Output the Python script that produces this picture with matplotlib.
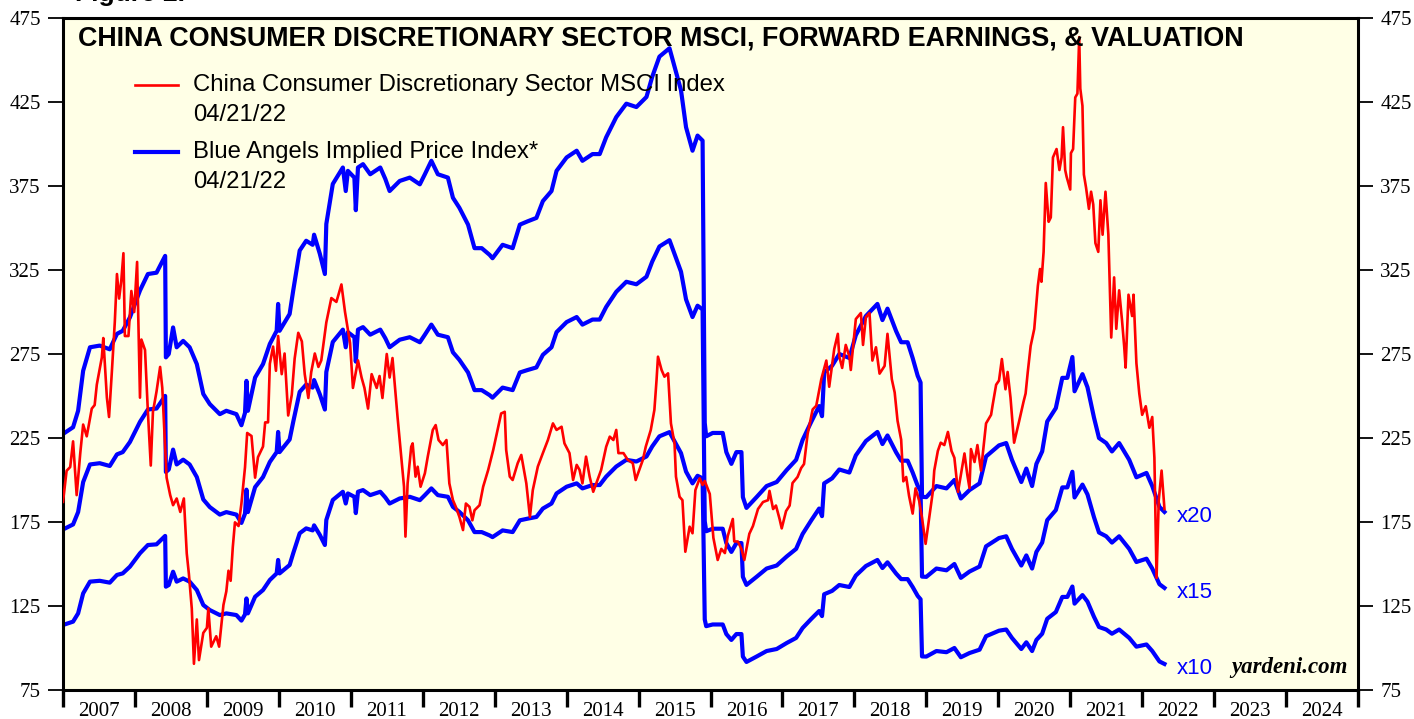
import matplotlib
matplotlib.use("Agg")
import matplotlib.pyplot as plt
import numpy as np
from matplotlib.lines import Line2D

# ---------------- data ----------------
# forward earnings (per share) (value/10)
eps_t = [2007.00, 2007.14, 2007.21, 2007.28, 2007.375, 2007.51, 2007.65, 2007.75, 2007.83, 2007.93,
         2008.07, 2008.18, 2008.30, 2008.42, 2008.43, 2008.47, 2008.53, 2008.58, 2008.67, 2008.76,
         2008.86, 2008.95, 2009.04, 2009.18, 2009.27, 2009.41, 2009.48, 2009.53, 2009.55, 2009.57,
         2009.67, 2009.78, 2009.875, 2009.97, 2009.99, 2010.01, 2010.15, 2010.20, 2010.29, 2010.38,
         2010.47, 2010.49, 2010.57, 2010.64, 2010.66, 2010.75, 2010.89, 2010.93, 2010.96, 2011.05,
         2011.07, 2011.10, 2011.17, 2011.27, 2011.41, 2011.48, 2011.54, 2011.68, 2011.82, 2011.96,
         2012.03, 2012.12, 2012.21, 2012.35, 2012.42, 2012.51, 2012.63, 2012.72, 2012.82, 2012.93,
         2012.97, 2013.11, 2013.25, 2013.35, 2013.46, 2013.58, 2013.67, 2013.79, 2013.86, 2014.00,
         2014.14, 2014.22, 2014.36, 2014.46, 2014.55, 2014.69, 2014.83, 2014.97, 2015.11, 2015.19,
         2015.29, 2015.43, 2015.59, 2015.66, 2015.75, 2015.82, 2015.89, 2015.92, 2015.94, 2016.03,
         2016.17, 2016.22, 2016.29, 2016.36, 2016.43, 2016.45, 2016.50, 2016.64, 2016.78, 2016.92,
         2017.06, 2017.19, 2017.28, 2017.40, 2017.51, 2017.55, 2017.58, 2017.69, 2017.79, 2017.93,
         2018.02, 2018.16, 2018.32, 2018.39, 2018.46, 2018.58, 2018.65, 2018.74, 2018.81, 2018.88,
         2018.92, 2018.94, 2019.00, 2019.14, 2019.28, 2019.39, 2019.48, 2019.60, 2019.74, 2019.83,
         2020.01, 2020.11, 2020.19, 2020.32, 2020.39, 2020.47, 2020.53, 2020.61, 2020.68, 2020.80,
         2020.89, 2020.96, 2021.03, 2021.06, 2021.17, 2021.24, 2021.33, 2021.40, 2021.50, 2021.58,
         2021.68, 2021.82, 2021.92, 2022.06, 2022.14, 2022.24, 2022.31]
fwd_eps = [11.37, 11.57, 12.06, 13.25, 13.95, 14.00, 13.89, 14.35, 14.44, 14.84,
           15.64, 16.13, 16.17, 16.67, 13.65, 13.75, 14.54, 13.95, 14.14, 13.95,
           13.45, 12.56, 12.26, 11.96, 12.06, 11.96, 11.63, 12.00, 12.95, 12.06,
           13.05, 13.45, 14.05, 14.44, 15.24, 14.44, 14.94, 15.64, 16.83, 17.12,
           17.00, 17.30, 16.73, 16.13, 17.62, 18.81, 19.30, 18.60, 19.20, 19.00,
           18.03, 19.30, 19.40, 19.10, 19.30, 18.96, 18.60, 18.90, 19.00, 18.80,
           19.10, 19.50, 19.10, 19.00, 18.40, 18.10, 17.60, 16.90, 16.90, 16.70,
           16.60, 17.00, 16.90, 17.60, 17.70, 17.80, 18.30, 18.60, 19.20, 19.60,
           19.80, 19.50, 19.70, 19.70, 20.20, 20.80, 21.20, 21.10, 21.40, 22.00,
           22.60, 22.85, 21.60, 20.50, 19.80, 20.25, 20.10, 11.70, 11.30, 11.40,
           11.40, 10.83, 10.48, 10.83, 10.83, 9.49, 9.17, 9.49, 9.82, 9.94,
           10.30, 10.60, 11.19, 11.73, 12.20, 11.90, 13.20, 13.40, 13.75, 13.63,
           14.31, 14.88, 15.24, 14.76, 15.10, 14.43, 14.10, 14.10, 13.63, 13.10,
           12.90, 9.50, 9.49, 9.82, 9.75, 10.00, 9.45, 9.70, 9.90, 10.70,
           11.03, 11.10, 10.60, 9.94, 10.34, 9.82, 10.48, 10.85, 11.74, 12.14,
           13.04, 13.04, 13.66, 12.64, 13.15, 12.76, 11.86, 11.25, 11.10, 10.85,
           11.10, 10.60, 10.08, 10.21, 9.82, 9.20, 9.05]
multiples = [20, 15, 10]
multiple_labels = ["x20", "x15", "x10"]

# China Consumer Discretionary Sector MSCI index
msci_t = [2007.00, 2007.05, 2007.10, 2007.14, 2007.19, 2007.24, 2007.28, 2007.33, 2007.40, 2007.44,
          2007.47, 2007.54, 2007.56, 2007.61, 2007.64, 2007.68, 2007.72, 2007.75, 2007.78, 2007.81,
          2007.84, 2007.86, 2007.91, 2007.95, 2007.99, 2008.03, 2008.07, 2008.09, 2008.14, 2008.18,
          2008.22, 2008.25, 2008.30, 2008.35, 2008.38, 2008.44, 2008.49, 2008.53, 2008.58, 2008.63,
          2008.68, 2008.72, 2008.75, 2008.79, 2008.82, 2008.86, 2008.89, 2008.95, 2009.00, 2009.02,
          2009.06, 2009.13, 2009.17, 2009.23, 2009.27, 2009.30, 2009.33, 2009.36, 2009.39, 2009.44,
          2009.48, 2009.53, 2009.56, 2009.62, 2009.67, 2009.71, 2009.78, 2009.81, 2009.85, 2009.875,
          2009.92, 2009.96, 2009.99, 2010.04, 2010.08, 2010.13, 2010.18, 2010.22, 2010.27, 2010.32,
          2010.36, 2010.41, 2010.45, 2010.50, 2010.55, 2010.59, 2010.66, 2010.73, 2010.80, 2010.87,
          2010.92, 2010.99, 2011.03, 2011.10, 2011.15, 2011.19, 2011.24, 2011.29, 2011.36, 2011.40,
          2011.44, 2011.50, 2011.54, 2011.58, 2011.61, 2011.65, 2011.71, 2011.74, 2011.76, 2011.79,
          2011.84, 2011.86, 2011.90, 2011.93, 2011.97, 2012.03, 2012.07, 2012.14, 2012.18, 2012.22,
          2012.28, 2012.33, 2012.37, 2012.42, 2012.46, 2012.51, 2012.56, 2012.60, 2012.65, 2012.69,
          2012.72, 2012.79, 2012.84, 2012.91, 2012.98, 2013.05, 2013.09, 2013.14, 2013.16, 2013.21,
          2013.25, 2013.32, 2013.37, 2013.44, 2013.49, 2013.53, 2013.60, 2013.67, 2013.74, 2013.81,
          2013.86, 2013.93, 2013.97, 2014.04, 2014.09, 2014.14, 2014.18, 2014.22, 2014.27, 2014.32,
          2014.37, 2014.43, 2014.48, 2014.55, 2014.60, 2014.65, 2014.69, 2014.72, 2014.79, 2014.85,
          2014.92, 2014.96, 2015.01, 2015.06, 2015.10, 2015.17, 2015.22, 2015.25, 2015.27, 2015.32,
          2015.36, 2015.41, 2015.45, 2015.50, 2015.52, 2015.57, 2015.61, 2015.65, 2015.71, 2015.75,
          2015.79, 2015.85, 2015.89, 2015.92, 2015.99, 2016.04, 2016.10, 2016.15, 2016.20, 2016.24,
          2016.31, 2016.33, 2016.38, 2016.43, 2016.47, 2016.54, 2016.59, 2016.66, 2016.73, 2016.80,
          2016.82, 2016.87, 2016.91, 2016.96, 2016.99, 2017.05, 2017.10, 2017.14, 2017.21, 2017.26,
          2017.30, 2017.35, 2017.42, 2017.47, 2017.54, 2017.61, 2017.65, 2017.72, 2017.77, 2017.79,
          2017.83, 2017.88, 2017.93, 2017.95, 2018.02, 2018.09, 2018.12, 2018.16, 2018.21, 2018.25,
          2018.30, 2018.35, 2018.42, 2018.46, 2018.52, 2018.56, 2018.60, 2018.65, 2018.68, 2018.72,
          2018.76, 2018.81, 2018.85, 2018.90, 2018.94, 2018.99, 2019.04, 2019.09, 2019.11, 2019.16,
          2019.20, 2019.25, 2019.30, 2019.35, 2019.39, 2019.44, 2019.48, 2019.53, 2019.57, 2019.60,
          2019.62, 2019.67, 2019.71, 2019.76, 2019.83, 2019.90, 2019.92, 2019.97, 2020.01, 2020.05,
          2020.10, 2020.13, 2020.17, 2020.22, 2020.29, 2020.35, 2020.38, 2020.41, 2020.45, 2020.50,
          2020.55, 2020.58, 2020.60, 2020.63, 2020.66, 2020.70, 2020.73, 2020.76, 2020.81, 2020.85,
          2020.88, 2020.90, 2020.93, 2020.95, 2021.00, 2021.01, 2021.04, 2021.07, 2021.10, 2021.125,
          2021.14, 2021.17, 2021.19, 2021.22, 2021.26, 2021.29, 2021.32, 2021.35, 2021.39, 2021.42,
          2021.45, 2021.49, 2021.53, 2021.57, 2021.61, 2021.64, 2021.68, 2021.72, 2021.75, 2021.77,
          2021.81, 2021.86, 2021.88, 2021.92, 2021.96, 2022.00, 2022.05, 2022.10, 2022.14, 2022.17,
          2022.20, 2022.23, 2022.27, 2022.31]
msci = [187.0, 205.5, 207.7, 223.0, 191.0, 216.0, 233.0, 226.0, 242.5, 244.6,
        256.8, 273.0, 284.5, 249.0, 237.5, 265.0, 294.0, 322.6, 308.0, 318.5,
        335.0, 285.7, 285.7, 312.5, 300.0, 329.8, 249.0, 283.6, 277.4, 240.5,
        208.6, 240.5, 252.7, 267.3, 254.8, 201.4, 191.0, 185.0, 189.0, 181.0,
        189.0, 156.3, 144.0, 123.5, 90.6, 117.0, 92.8, 109.0, 112.0, 123.5,
        100.8, 107.0, 100.8, 125.6, 133.7, 146.0, 140.0, 160.0, 174.8, 172.6,
        186.0, 207.6, 228.0, 226.2, 201.4, 213.6, 219.9, 234.3, 234.3, 269.2,
        279.4, 265.0, 285.7, 263.0, 275.3, 238.4, 250.7, 272.3, 287.6, 282.5,
        263.0, 248.8, 264.2, 275.3, 267.3, 271.2, 293.8, 308.3, 306.0, 316.4,
        300.0, 281.5, 254.8, 271.2, 261.0, 254.8, 242.5, 263.0, 254.8, 261.9,
        248.8, 275.0, 261.0, 272.6, 257.7, 237.5, 210.0, 196.0, 166.3, 198.0,
        219.8, 221.8, 202.0, 207.9, 196.0, 204.0, 213.9, 229.8, 232.7, 223.8,
        220.8, 223.8, 198.0, 188.0, 184.0, 178.0, 170.2, 186.0, 184.0, 176.0,
        182.0, 185.0, 196.0, 206.0, 217.9, 231.7, 239.6, 240.6, 217.9, 202.0,
        200.0, 210.0, 214.9, 198.0, 178.0, 194.0, 208.0, 216.0, 223.8, 233.7,
        229.8, 231.7, 221.8, 216.0, 200.0, 209.0, 206.0, 198.0, 213.9, 202.0,
        193.0, 200.0, 206.0, 219.8, 225.8, 223.8, 229.8, 216.0, 216.0, 212.0,
        210.0, 200.0, 206.0, 212.0, 219.8, 229.8, 241.7, 259.5, 273.4, 265.5,
        261.5, 263.5, 233.7, 221.8, 202.0, 190.0, 188.0, 157.3, 172.2, 168.3,
        194.0, 201.0, 197.0, 199.4, 191.7, 165.6, 152.4, 159.0, 156.5, 166.7,
        176.8, 163.4, 163.4, 159.0, 152.4, 168.0, 172.6, 182.7, 186.9, 188.0,
        193.5, 182.7, 184.8, 176.8, 171.2, 181.5, 184.8, 198.2, 201.8, 207.1,
        209.5, 227.4, 242.0, 244.2, 260.0, 271.1, 255.5, 278.0, 287.0, 273.5,
        266.7, 280.4, 273.5, 265.5, 295.8, 299.4, 280.4, 297.0, 299.4, 271.1,
        279.0, 263.3, 267.9, 287.0, 260.0, 252.1, 235.2, 224.0, 199.2, 201.8,
        190.5, 180.0, 195.0, 187.7, 177.4, 162.0, 177.4, 193.0, 205.6, 217.3,
        222.2, 220.8, 228.6, 217.3, 213.2, 192.9, 203.0, 215.8, 203.0, 195.2,
        218.4, 210.7, 220.8, 205.6, 233.7, 238.8, 244.2, 256.7, 259.2, 272.0,
        254.0, 264.3, 249.0, 222.2, 235.0, 246.4, 251.5, 264.3, 279.8, 289.9,
        315.5, 325.6, 318.0, 335.8, 376.8, 353.7, 356.3, 392.0, 397.0, 384.5,
        392.0, 410.0, 384.5, 380.5, 372.9, 394.6, 397.0, 427.7, 430.0, 463.6,
        433.0, 422.7, 381.8, 374.0, 361.4, 371.6, 364.0, 341.0, 335.8, 366.5,
        346.0, 371.6, 346.0, 284.8, 320.6, 290.0, 312.9, 295.0, 279.6, 266.9,
        310.3, 297.6, 310.3, 269.5, 251.5, 238.8, 243.9, 231.1, 237.5, 213.2,
        141.7, 187.7, 205.6, 182.7]

years = list(range(2007, 2025))
y_ticks = [75, 125, 175, 225, 275, 325, 375, 425, 475]

title = "CHINA CONSUMER DISCRETIONARY SECTOR MSCI, FORWARD EARNINGS, & VALUATION"
red_label = "China Consumer Discretionary Sector MSCI Index"
blue_label = "Blue Angels Implied Price Index*"
date_label = "04/21/22"

# ---------------- figure ----------------
W, H = 1414, 719
fig = plt.figure(figsize=(W / 100, H / 100), dpi=100)
fig.patch.set_facecolor("white")

def fx(px):
    return px / W

def fy(py):
    return 1 - py / H

L, R, T, B = 63, 1358, 18, 690
ax = fig.add_axes([fx(L), fy(B), fx(R) - fx(L), fy(T) - fy(B)])
ax.set_facecolor("#ffffe6")
ax.set_xlim(2007, 2025)
ax.set_ylim(75, 475)

BLUE = "#0000ff"
RED = "#ff0000"

eps = np.array(fwd_eps)
for m in multiples:
    ax.plot(eps_t, eps * m, color=BLUE, lw=3.0, solid_joinstyle="round", zorder=2)
ax.plot(msci_t, msci, color=RED, lw=1.9, zorder=3)

# spines
for s in ax.spines.values():
    s.set_linewidth(2.2)
    s.set_color("black")

serif = "Liberation Serif"
sans = "Liberation Sans"

# y axis ticks on both sides
ax.set_yticks(y_ticks)
ax.set_yticklabels([str(v) for v in y_ticks], fontfamily=serif, fontsize=15)
ax.tick_params(axis="y", which="both", direction="out", length=11, width=1.3,
               left=True, right=True, labelleft=True, labelright=True, pad=5)

# x axis: major ticks at year boundaries, labels at mid-year
ax.set_xticks(years + [2025])
ax.set_xticklabels([])
ax.set_xticks([y + 0.5 for y in years], minor=True)
ax.set_xticklabels([str(y) for y in years], minor=True, fontfamily=serif, fontsize=15)
ax.tick_params(axis="x", which="major", direction="out", length=12, width=2.4)
ax.tick_params(axis="x", which="minor", length=0, pad=9)

# title
fig.text(fx(78), fy(38), title, fontfamily=sans, fontweight="bold",
         fontsize=19.4, va="center", ha="left")

# Figure label (cut off at top, as in the source)
fig.text(fx(75), fy(6), "Figure 2.", fontfamily=sans, fontweight="bold",
         fontsize=19, va="bottom", ha="left")

# legend
fig.add_artist(Line2D([fx(135), fx(178)], [fy(85), fy(85)], color=RED, lw=1.9,
                      transform=fig.transFigure))
fig.add_artist(Line2D([fx(135), fx(178)], [fy(152), fy(152)], color=BLUE, lw=3.0,
                      transform=fig.transFigure))
for txt, py in [(red_label, 85), (date_label, 115), (blue_label, 152), (date_label, 182)]:
    fig.text(fx(193), fy(py), txt, fontfamily=sans, fontsize=17.2, va="center", ha="left")

# multiple labels at the end of each blue line
for m, lab in zip(multiples, multiple_labels):
    ax.annotate(lab, xy=(eps_t[-1], eps[-1] * m), xytext=(8.5, -3),
                textcoords="offset points", color=BLUE, fontfamily=sans,
                fontsize=16, va="center", ha="left")

# source
ax.text(0.992, 0.018, "yardeni.com", transform=ax.transAxes, fontfamily=serif,
        fontweight="bold", fontstyle="italic", fontsize=16.5, ha="right", va="bottom")

fig.savefig("out.png", dpi=100)
